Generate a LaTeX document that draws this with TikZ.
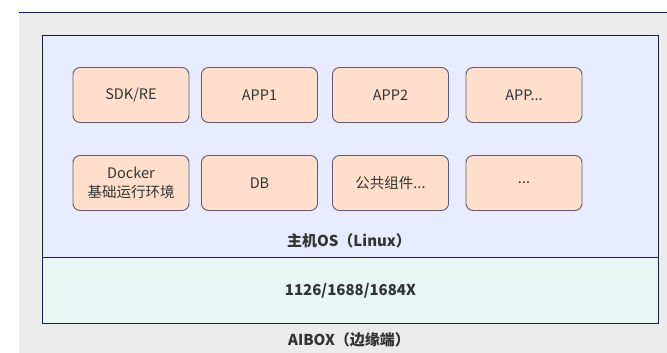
\documentclass[tikz,border=0pt]{standalone}
\usepackage{fontspec}
\setmainfont{Noto Sans CJK SC}
\usepackage{xcolor}
\usetikzlibrary{positioning}

\definecolor{panelgray}{HTML}{EBEBEB}
\definecolor{navyline}{HTML}{1A1F4A}
\definecolor{hostbg}{HTML}{E8EBFD}
\definecolor{chipbg}{HTML}{E8F6F4}
\definecolor{peach}{HTML}{FFDFCB}
\definecolor{boxline}{HTML}{5C5C72}
\definecolor{textc}{HTML}{333333}

\tikzset{
	comp/.style={draw=boxline, line width=0.9pt, fill=peach, rounded corners=7pt,
		minimum width=116pt, minimum height=55pt, align=center, inner sep=2pt,
		text=textc, font=\fontsize{14.5}{19}\selectfont},
	layerlabel/.style={text=textc, font=\bfseries\fontsize{15}{18}\selectfont}
}

\begin{document}
\begin{tikzpicture}[x=1pt,y=-1pt]
		% Canvas
		\useasboundingbox (0,0) rectangle (667,353);
		\fill[white] (0,0) rectangle (667,353);
		\fill[panelgray] (19,13) rectangle (667,353);
		\draw[navyline, line width=1pt] (19,13) -- (667,13);

		% Host OS and chip layers
		\node[draw=navyline, fill=hostbg, line width=0.9pt, inner sep=0pt, anchor=north west,
			minimum width=616pt, minimum height=222pt] (host) at (42,35) {};
		\node[draw=navyline, fill=chipbg, line width=0.9pt, inner sep=0pt, anchor=north west,
			minimum width=616pt, minimum height=66pt] (chip) at (42,257) {};

		% Upper row
		\node[comp] (sdk) at (131,95) {SDK/RE};
		\node[comp] (app1) at (259.5,95) {APP1};
		\node[comp] (app2) at (390.5,95) {APP2};
		\node[comp] (appx) at (524,95) {APP...};

		% Lower row
		\node[comp] (docker) at (131,183) {Docker\\基础运行环境};
		\node[comp] (db) at (259.5,183) {DB};
		\node[comp] (common) at (390.5,183) {公共组件...};
		\node[comp] (more) at (524,183) {...};

		% Layer labels
		\node[layerlabel] (hostlbl) at (349,241) {主机OS（Linux）};
		\node[layerlabel] (chiplbl) at (chip.center) {1126/1688/1684X};
		\node[layerlabel] (boxlbl) at (349,340) {AIBOX（边缘端）};
	\end{tikzpicture}
\end{document}
